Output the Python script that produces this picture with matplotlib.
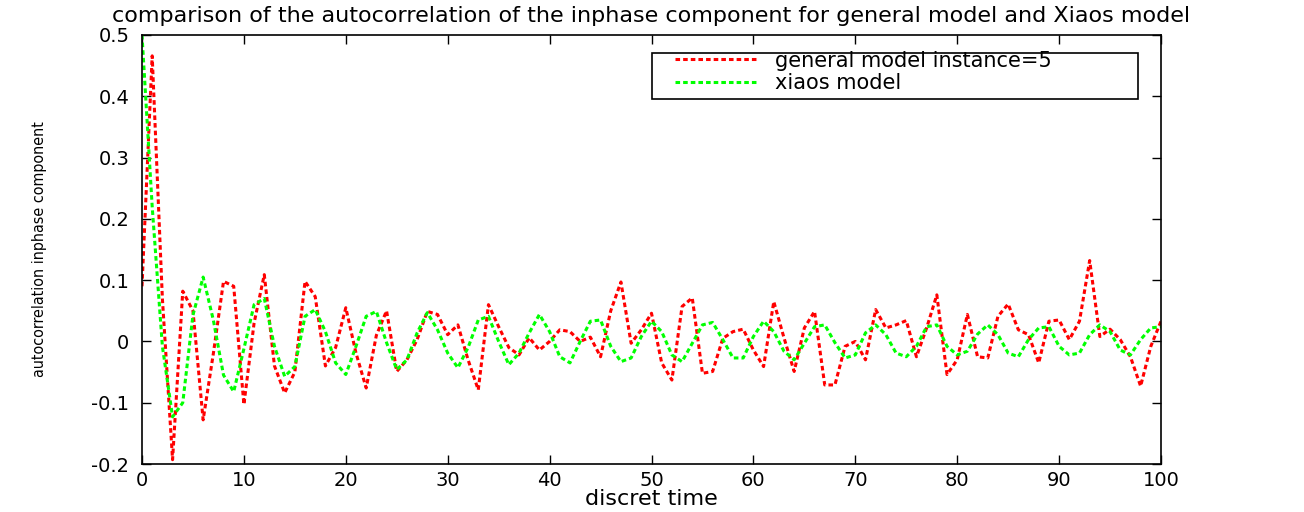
import matplotlib
matplotlib.use("Agg")
import matplotlib.pyplot as plt
from matplotlib.patches import Rectangle

plt.rcParams['font.family'] = ['DejaVu Sans']
plt.rcParams['axes.unicode_minus'] = False

# ---- data ----
lags = list(range(0, 101))
general_model = [
    0.09, 0.466, 0.07, -0.193, 0.082, 0.05, -0.128, -0.02, 0.098, 0.09,
    -0.103, 0.03, 0.109, -0.04, -0.084, -0.05, 0.098, 0.073, -0.04, -0.01,
    0.055, -0.019, -0.076, 0.01, 0.05, -0.049, -0.03, 0.003, 0.049, 0.044,
    0.011, 0.027, -0.03, -0.079, 0.06, 0.024, -0.01, -0.022, 0.006, -0.014,
    0.0, 0.019, 0.016, 0.0, 0.007, -0.025, 0.05, 0.097, -0.003, 0.019,
    0.046, -0.035, -0.063, 0.057, 0.071, -0.052, -0.049, 0.005, 0.016, 0.02,
    -0.014, -0.041, 0.065, 0.006, -0.049, 0.022, 0.049, -0.071, -0.071, -0.008,
    0.0, -0.03, 0.052, 0.022, 0.027, 0.034, -0.025, 0.022, 0.076, -0.054,
    -0.03, 0.044, -0.025, -0.027, 0.041, 0.061, 0.019, 0.011, -0.035, 0.033,
    0.035, 0.003, 0.033, 0.132, 0.008, 0.02, 0.003, -0.025, -0.073, -0.008,
    0.033,
]
xiaos_model = [
    0.5, 0.22, -0.008, -0.123, -0.1, 0.043, 0.105, 0.035, -0.055, -0.082,
    -0.012, 0.06, 0.07, -0.008, -0.057, -0.041, 0.041, 0.052, 0.016, -0.035,
    -0.054, -0.008, 0.041, 0.049, -0.002, -0.046, -0.03, 0.014, 0.047, 0.019,
    -0.019, -0.043, -0.01, 0.035, 0.041, 0.0, -0.038, -0.019, 0.014, 0.044,
    0.016, -0.025, -0.035, 0.0, 0.033, 0.035, -0.008, -0.033, -0.027, 0.008,
    0.033, 0.016, -0.022, -0.033, -0.003, 0.027, 0.031, 0.003, -0.027, -0.027,
    0.008, 0.033, 0.016, -0.016, -0.03, -0.003, 0.024, 0.027, -0.002, -0.027,
    -0.022, 0.014, 0.027, 0.011, -0.019, -0.025, -0.008, 0.024, 0.027, -0.008,
    -0.022, -0.016, 0.012, 0.027, 0.011, -0.019, -0.025, 0.003, 0.022, 0.024,
    -0.008, -0.022, -0.019, 0.011, 0.027, 0.016, -0.014, -0.022, 0.003, 0.022,
    0.024,
]
xticks = [0, 10, 20, 30, 40, 50, 60, 70, 80, 90, 100]
xtick_labels = ["0", "10", "20", "30", "40", "50", "60", "70", "80", "90", "100"]
yticks = [-0.2, -0.1, 0.0, 0.1, 0.2, 0.3, 0.4, 0.5]
ytick_labels = ["-0.2", "-0.1", "0", "0.1", "0.2", "0.3", "0.4", "0.5"]
series_labels = ["general model instance=5", "xiaos model"]
title = "comparison of the autocorrelation of the inphase component for general model and Xiaos model"
xlabel = "discret time"
ylabel = "autocorrelation inphase component"

# ---- figure ----
W, H = 1304, 512
fig = plt.figure(figsize=(W / 100, H / 100), dpi=100)
left, right, top, bottom = 142, 1161, 35, 464
aw, ah = right - left, bottom - top
ax = fig.add_axes([left / W, 1 - bottom / H, aw / W, ah / H])

dash = (1.5, 1.0)
ax.plot(lags, general_model, color=(1, 0, 0), lw=2.2, linestyle=(0, dash),
        dash_capstyle='butt', label=series_labels[0])
ax.plot(lags, xiaos_model, color=(0, 1, 0), lw=2.2, linestyle=(0, dash),
        dash_capstyle='butt', label=series_labels[1])

ax.set_xlim(0, 100)
ax.set_ylim(-0.2, 0.5)
ax.set_xticks(xticks)
ax.set_xticklabels(xtick_labels)
ax.set_yticks(yticks)
ax.set_yticklabels(ytick_labels)
ax.tick_params(direction='in', length=6.5, width=1.0, top=True, right=True,
               labelsize=14, colors='black')
ax.tick_params(axis='x', pad=5)
ax.tick_params(axis='y', pad=9)
for s in ax.spines.values():
    s.set_linewidth(1.2)

ax.set_title(title, fontsize=16, pad=9)
ax.set_xlabel(xlabel, fontsize=16, labelpad=-1)
ax.set_ylabel(ylabel, fontsize=11.5, fontstretch='condensed')
ax.yaxis.set_label_coords((47 - left) / aw, 0.5)

# legend box (frame drawn separately to match the reference geometry)
box_x0, box_x1, box_y0, box_y1 = 652, 1138, 53, 99
ax.add_patch(Rectangle(((box_x0 - left) / aw, (bottom - box_y1) / ah),
                       (box_x1 - box_x0) / aw, (box_y1 - box_y0) / ah,
                       transform=ax.transAxes, facecolor='white', edgecolor='black',
                       lw=1.2, zorder=4, clip_on=False))
leg = ax.legend(loc='center left',
                bbox_to_anchor=((675 - left) / aw, (bottom - 72) / ah),
                fontsize=15, handlelength=4.0, handletextpad=0.8,
                borderpad=0.0, labelspacing=0.12, borderaxespad=0,
                frameon=False)
leg.set_zorder(5)

fig.savefig("out.png", dpi=100)
